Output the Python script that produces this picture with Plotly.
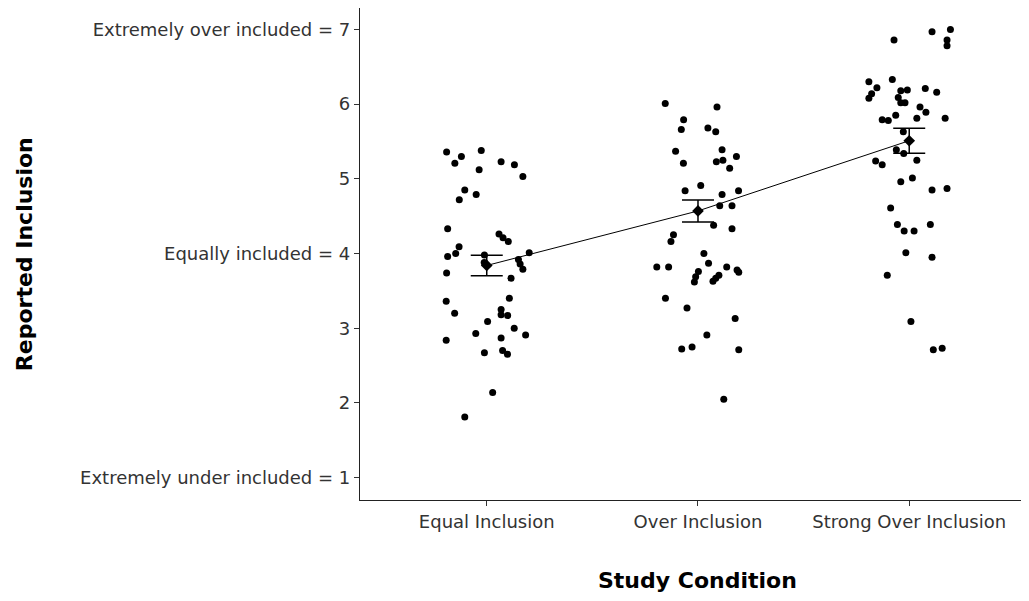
import plotly.graph_objects as go

categories = ["Equal Inclusion", "Over Inclusion", "Strong Over Inclusion"]

# jitter offsets (in category units) and reported values per condition
equal_jit = [-0.190, -0.120, -0.151, -0.026, 0.068, 0.131, -0.036, 0.171, -0.104, -0.050,
             -0.130, -0.185, 0.058, 0.077, 0.102, -0.131, -0.147, -0.185, -0.011, -0.012,
             0.201, 0.150, 0.158, 0.171, -0.190, 0.115, -0.192, 0.107, -0.152, 0.068,
             0.068, 0.099, 0.004, 0.130, -0.052, 0.184, -0.192, 0.068, -0.011, 0.075,
             0.098, 0.028, -0.104]
equal_val = [5.36, 5.30, 5.21, 5.38, 5.23, 5.19, 5.12, 5.03, 4.85, 4.79,
             4.72, 4.33, 4.26, 4.21, 4.16, 4.09, 4.00, 3.96, 3.98, 3.88,
             4.01, 3.92, 3.86, 3.79, 3.74, 3.67, 3.36, 3.40, 3.20, 3.25,
             3.18, 3.17, 3.09, 3.00, 2.93, 2.91, 2.84, 2.87, 2.67, 2.70,
             2.65, 2.14, 1.81]

over_jit = [-0.155, 0.090, -0.068, -0.079, 0.047, 0.084, -0.106, 0.114, 0.182, -0.069,
            0.087, 0.118, 0.150, -0.061, 0.013, 0.114, 0.192, 0.103, 0.161, 0.074,
            0.161, -0.116, -0.128, 0.028, 0.050, -0.195, -0.139, 0.136, 0.002, -0.011,
            -0.017, 0.099, 0.084, 0.071, 0.185, 0.193, -0.154, -0.052, 0.176, 0.042,
            -0.077, -0.028, 0.193, 0.122]
over_val = [6.01, 5.96, 5.79, 5.66, 5.68, 5.63, 5.37, 5.39, 5.30, 5.21,
            5.23, 5.25, 5.14, 4.84, 4.91, 4.79, 4.84, 4.64, 4.64, 4.38,
            4.33, 4.25, 4.16, 4.00, 3.87, 3.82, 3.82, 3.82, 3.76, 3.69,
            3.62, 3.71, 3.67, 3.63, 3.78, 3.75, 3.40, 3.27, 3.13, 2.91,
            2.72, 2.75, 2.71, 2.05]

strong_jit = [-0.072, 0.108, 0.195, 0.179, 0.179, -0.191, -0.080, -0.153, -0.178, -0.191,
              -0.040, -0.009, -0.052, -0.040, -0.020, 0.076, 0.130, 0.051, 0.079, -0.128,
              -0.099, -0.064, 0.036, 0.170, -0.028, -0.061, -0.026, -0.159, -0.128, 0.036,
              -0.040, 0.015, 0.108, 0.179, -0.088, -0.056, 0.100, -0.024, 0.023, -0.016,
              0.108, -0.104, 0.008, 0.114, 0.156]
strong_val = [6.86, 6.97, 7.00, 6.86, 6.78, 6.30, 6.33, 6.22, 6.14, 6.08,
              6.18, 6.19, 6.09, 6.02, 6.02, 6.21, 6.16, 5.96, 5.89, 5.79,
              5.78, 5.85, 5.81, 5.81, 5.63, 5.39, 5.34, 5.24, 5.19, 5.25,
              4.96, 5.01, 4.85, 4.87, 4.61, 4.39, 4.39, 4.30, 4.30, 4.01,
              3.95, 3.71, 3.09, 2.71, 2.73]

group_means = [3.84, 4.57, 5.51]
group_se = [0.137, 0.147, 0.166]

y_tickvals = [1, 2, 3, 4, 5, 6, 7]
y_ticktext = ["Extremely under included = 1", "2", "3", "Equally included = 4",
              "5", "6", "Extremely over included = 7"]

jits = [equal_jit, over_jit, strong_jit]
vals = [equal_val, over_val, strong_val]

fig = go.Figure()

xs, ys = [], []
for i, (j, v) in enumerate(zip(jits, vals)):
    xs += [i + 1 + d for d in j]
    ys += v

fig.add_trace(go.Scatter(
    x=xs, y=ys, mode="markers",
    marker=dict(color="black", size=7, line=dict(width=0)),
    showlegend=False, hoverinfo="skip"))

fig.add_trace(go.Scatter(
    x=[1, 2, 3], y=group_means, mode="lines+markers",
    line=dict(color="black", width=1),
    marker=dict(color="black", size=9, symbol="diamond"),
    error_y=dict(type="data", array=group_se, visible=True,
                 color="black", thickness=1.5, width=16),
    showlegend=False))

tick_font = dict(family="DejaVu Sans", size=18, color="#333333")

fig.update_layout(
    width=1021, height=593, autosize=False,
    margin=dict(l=352, r=0, t=0, b=101),
    paper_bgcolor="white", plot_bgcolor="white",
    xaxis=dict(range=[0.4, 3.567], tickvals=[1, 2, 3], ticktext=categories,
               showgrid=False, zeroline=False, showline=True, mirror=True,
               linecolor="#222222", linewidth=1.3,
               ticks="outside", ticklen=5, tickwidth=1.3, tickcolor="#333333",
               tickfont=tick_font),
    yaxis=dict(range=[0.7, 7.287], tickvals=y_tickvals, ticktext=y_ticktext,
               showgrid=False, zeroline=False, showline=True, mirror=False,
               linecolor="#222222", linewidth=1.3,
               ticks="outside", ticklen=5, tickwidth=1.3, tickcolor="#333333",
               tickfont=tick_font),
    annotations=[
        dict(text="<b>Study Condition</b>", xref="x", yref="paper", x=2, y=-0.1646,
             xanchor="center", yanchor="middle", showarrow=False,
             font=dict(family="DejaVu Sans", size=22, color="black")),
        dict(text="<b>Reported Inclusion</b>", xref="paper", yref="paper",
             x=-0.502, y=0.5, xanchor="center", yanchor="middle", showarrow=False,
             textangle=-90,
             font=dict(family="DejaVu Sans", size=22, color="black")),
    ],
)

fig.write_html("out.html")
